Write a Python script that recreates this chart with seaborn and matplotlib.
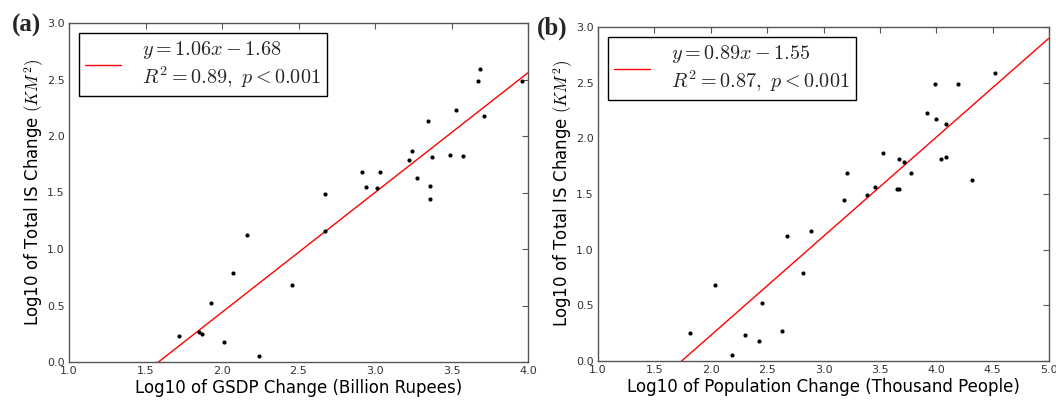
import numpy as np
import pandas as pd
import matplotlib
matplotlib.use("Agg")
import matplotlib.pyplot as plt
import seaborn as sns

# ---- data ----
gsdp_x = [3.96, 3.685, 3.67, 3.71, 3.53, 3.349, 3.245, 3.22, 3.371, 3.49,
          3.578, 2.914, 3.034, 2.938, 3.012, 3.273, 3.36, 3.358, 2.676, 2.676,
          2.163, 2.071, 2.459, 1.927, 1.716, 1.849, 1.871, 2.01, 2.243]
gsdp_y = [2.49, 2.593, 2.49, 2.174, 2.227, 2.133, 1.867, 1.788, 1.817, 1.832,
          1.82, 1.684, 1.684, 1.546, 1.543, 1.625, 1.56, 1.442, 1.484, 1.162,
          1.124, 0.785, 0.685, 0.521, 0.232, 0.268, 0.25, 0.176, 0.05]

pop_x = [4.519, 3.988, 4.189, 3.92, 3.997, 4.083, 3.528, 3.667, 3.717, 4.041,
         4.083, 3.206, 3.776, 4.319, 3.457, 3.655, 3.67, 3.186, 3.389, 2.678,
         2.888, 2.814, 2.035, 2.451, 1.817, 2.301, 2.428, 2.628, 2.186]
pop_y = [2.591, 2.49, 2.484, 2.227, 2.173, 2.128, 1.869, 1.818, 1.788, 1.818,
         1.833, 1.687, 1.687, 1.627, 1.561, 1.549, 1.546, 1.446, 1.488, 1.125,
         1.167, 0.786, 0.684, 0.522, 0.249, 0.231, 0.177, 0.267, 0.051]

fit_a = (1.06, -1.68)
fit_b = (0.89, -1.55)
legend_a = "$y = 1.06x - 1.68$\n$R^2 = 0.89,\\ p < 0.001$"
legend_b = "$y = 0.89x - 1.55$\n$R^2 = 0.87,\\ p < 0.001$"
xlabel_a = "Log10 of GSDP Change (Billion Rupees)"
xlabel_b = "Log10 of Population Change (Thousand People)"
ylabel = "Log10 of Total IS Change $(KM^2)$"
xlim_a = (1.0, 4.0)
xlim_b = (1.0, 5.0)
ylim = (0.0, 3.0)
panel_tags = ["(a)", "(b)"]

# ---- style ----
sns.set_style("white")
plt.rcParams["font.family"] = ["DejaVu Sans"]
plt.rcParams["mathtext.fontset"] = "cm"

fig = plt.figure(figsize=(10.56, 4.01), dpi=100)
ax_a = fig.add_axes([69/1056, 1 - 362/401, 459/1056, 339/401])
ax_b = fig.add_axes([598/1056, 1 - 361/401, 451/1056, 334/401])

spine_col = "#555555"
tick_col = "#333333"

panels = [
    (ax_a, gsdp_x, gsdp_y, fit_a, legend_a, xlabel_a, xlim_a, np.arange(1.0, 4.01, 0.5)),
    (ax_b, pop_x, pop_y, fit_b, legend_b, xlabel_b, xlim_b, np.arange(1.0, 5.01, 0.5)),
]

for ax, xs, ys, fit, leg, xl, xlim, xt in panels:
    df = pd.DataFrame({"x": xs, "y": ys})
    line_x = np.array(xlim)
    line_y = fit[0] * line_x + fit[1]
    ax.plot(line_x, line_y, color="red", lw=1.0, label=leg)
    sns.scatterplot(data=df, x="x", y="y", ax=ax, color="black", s=9,
                    linewidth=0, zorder=3)
    ax.set_xlim(*xlim)
    ax.set_ylim(*ylim)
    ax.set_xticks(xt)
    ax.set_yticks(np.arange(0, 3.01, 0.5))
    ax.set_xticklabels([f"{v:.1f}" for v in xt])
    ax.set_yticklabels([f"{v:.1f}" for v in np.arange(0, 3.01, 0.5)])
    ax.tick_params(direction="in", top=True, right=True, length=4, width=0.8,
                   color=spine_col, labelsize=8, labelcolor=tick_col, pad=3)
    for sp in ax.spines.values():
        sp.set_color(spine_col)
        sp.set_linewidth(1.0)
    ax.set_xlabel(xl, fontsize=12, color="black", labelpad=2)
    ax.set_ylabel(ylabel, fontsize=12, color="black", labelpad=1)
    lg = ax.legend(loc="upper left", fontsize=14.5, frameon=True, fancybox=False,
                   edgecolor="black", framealpha=1, handlelength=1.8,
                   borderpad=0.3, handletextpad=1.05, borderaxespad=0.48)
    lg.get_frame().set_linewidth(1.0)

fig.text(12/1056, 1 - 25/401, panel_tags[0], fontsize=18, fontweight="bold",
         family="Liberation Serif", va="center", ha="left")
fig.text(537/1056, 1 - 28/401, panel_tags[1], fontsize=18, fontweight="bold",
         family="Liberation Serif", va="center", ha="left")

fig.savefig("out.png", dpi=100)
